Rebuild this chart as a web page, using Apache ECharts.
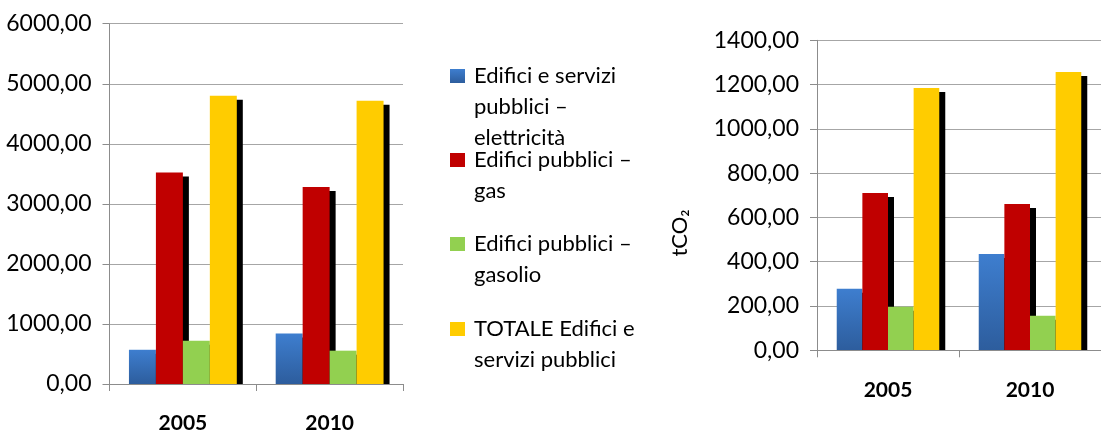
<!DOCTYPE html>
<html>
<head>
<meta charset="utf-8">
<script src="https://cdn.jsdelivr.net/npm/echarts@6/dist/echarts.min.js"></script>
<style>
html,body{margin:0;padding:0;background:#fff;}
#chart{width:1101px;height:434px;}
</style>
</head>
<body>
<div id="chart"></div>
<script>
const categories = ['2005', '2010'];
const seriesNames = [
  'Edifici e servizi pubblici – elettricità',
  'Edifici pubblici – gas',
  'Edifici pubblici – gasolio',
  'TOTALE Edifici e servizi pubblici'
];
const legendLines = [
  ['Edifici e servizi', 'pubblici –', 'elettricità'],
  ['Edifici pubblici –', 'gas'],
  ['Edifici pubblici –', 'gasolio'],
  ['TOTALE Edifici e', 'servizi pubblici']
];
// left chart (energy)
const energyElettricita = [570, 840];
const energyGas = [3520, 3280];
const energyGasolio = [720, 555];
const energyTotale = [4800, 4715];
// right chart (tCO2)
const co2Elettricita = [278, 435];
const co2Gas = [710, 661];
const co2Gasolio = [197, 156];
const co2Totale = [1185, 1257];
const leftAxis = { min: 0, max: 6000, interval: 1000 };
const rightAxis = { min: 0, max: 1400, interval: 200 };
const yAxisName = 'tCO₂';

const FONT = 'Lato';
const blueGrad = new echarts.graphic.LinearGradient(0, 0, 0, 1, [
  { offset: 0, color: '#3e7ecf' },
  { offset: 1, color: '#2d5d9d' }
]);
const colors = [blueGrad, '#c00000', '#92d050', '#ffcc00'];
const leftData = [energyElettricita, energyGas, energyGasolio, energyTotale];
const rightData = [co2Elettricita, co2Gas, co2Gasolio, co2Totale];

const fmt = v => v.toFixed(2).replace('.', ',');

function xAxisDef(gridIndex) {
  return {
    type: 'category', gridIndex, data: categories, z: 5,
    axisLine: { lineStyle: { color: '#8c8c8c', width: 1 } },
    axisTick: { show: true, length: 7, lineStyle: { color: '#8c8c8c' } },
    axisLabel: { margin: 29, fontFamily: FONT, fontSize: 21, fontWeight: 'bold', color: '#000' }
  };
}
function yAxisDef(gridIndex, ax) {
  return {
    type: 'value', gridIndex, min: ax.min, max: ax.max, interval: ax.interval,
    axisLine: { show: true, lineStyle: { color: '#8c8c8c', width: 1 } },
    axisTick: { show: true, length: 7, lineStyle: { color: '#8c8c8c' } },
    splitLine: { lineStyle: { color: '#a6a6a6', width: 1 } },
    axisLabel: { margin: 18, fontFamily: FONT, fontSize: 23, color: '#000', formatter: fmt }
  };
}
const series = [];
[leftData, rightData].forEach((set, gi) => {
  set.forEach((vals, i) => {
    series.push({
      type: 'bar', name: seriesNames[i], xAxisIndex: gi, yAxisIndex: gi,
      data: vals, barGap: '0%', barCategoryGap: gi === 0 ? '26.5%' : '27.8%',
      itemStyle: { color: colors[i], shadowColor: '#000', shadowBlur: 0, shadowOffsetX: 6, shadowOffsetY: 4 },
      emphasis: { disabled: true }
    });
  });
});

const iconTops = [69, 153, 237, 322];
const LH = 31;
const legends = seriesNames.map((nm, i) => {
  const n = legendLines[i].length;
  const blockH = (2 * n - 1) * LH;
  return {
    data: [nm], left: 450, top: iconTops[i] + 7 - blockH / 2, padding: 0,
    icon: 'rect', itemWidth: 15, itemHeight: 14, selectedMode: false,
    itemStyle: { shadowColor: 'transparent', shadowBlur: 0, shadowOffsetX: 0, shadowOffsetY: 0 },
    textStyle: { fontFamily: FONT, fontSize: 22, lineHeight: LH, color: '#000', padding: [0, 0, 0, 4] },
    formatter: () => '\n'.repeat(n - 1) + legendLines[i].join('\n')
  };
});

const chart = echarts.init(document.getElementById('chart'), null, { renderer: 'canvas' });
chart.setOption({
  animation: false,
  grid: [
    { left: 109.5, top: 23.7, right: 698, bottom: 49.7 },
    { left: 817, top: 40.3, right: -4, bottom: 83.7 }
  ],
  xAxis: [xAxisDef(0), xAxisDef(1)],
  yAxis: [yAxisDef(0, leftAxis), yAxisDef(1, rightAxis)],
  legend: legends,
  graphic: [
    { type: 'rect', z: 3, shape: { x: 110, y: 385, width: 300, height: 8 }, style: { fill: '#fff' } },
    { type: 'rect', z: 3, shape: { x: 818, y: 351, width: 290, height: 8 }, style: { fill: '#fff' } },
    { type: 'text', x: 680, y: 233, rotation: Math.PI / 2,
      style: { text: yAxisName, fontFamily: FONT, fontSize: 22, fill: '#000', align: 'center', verticalAlign: 'middle' } }
  ],
  series
});
</script>
</body>
</html>
